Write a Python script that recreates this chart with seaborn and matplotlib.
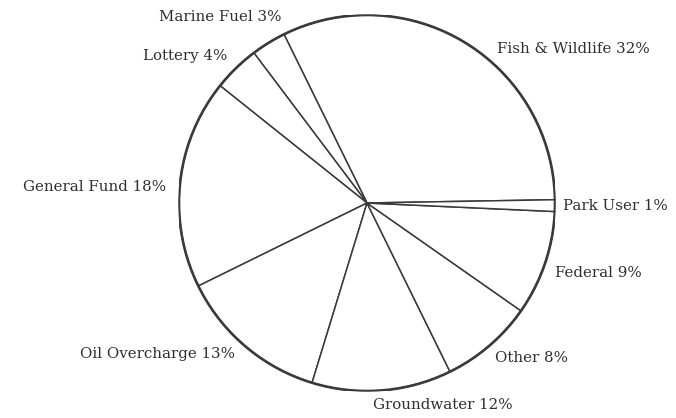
import matplotlib.pyplot as plt
import seaborn as sns

# Sources, counter-clockwise from 3 o'clock
sources = ['Fish & Wildlife', 'Marine Fuel', 'Lottery', 'General Fund',
           'Oil Overcharge', 'Groundwater', 'Other', 'Federal', 'Park User']
shares = [32, 3, 4, 18, 13, 12, 8, 9, 1]

# label anchor (left edge, vertical centre) in pie-radius units
label_pos = [(0.69, 0.82), (-1.106, 0.989), (-1.191, 0.782), (-1.83, 0.085),
             (-1.527, -0.803), (0.032, -1.074), (0.681, -0.824), (1.0, -0.372),
             (1.043, -0.016)]

sns.set_theme(style="white")
plt.rcParams['font.family'] = ['DejaVu Serif']

fig = plt.figure(figsize=(6.76, 4.18), dpi=100)
ax = fig.add_axes([179 / 676, 27 / 418, 376 / 676, 376 / 418])

wedges, _ = ax.pie(shares, startangle=1, counterclock=True,
                   colors=['white'] * len(shares),
                   wedgeprops=dict(edgecolor='#3a3a3a', linewidth=1.1))
ax.add_patch(plt.Circle((0, 0), 1, fill=False, edgecolor='#3a3a3a', linewidth=1.9))

for name, pct, (x, y) in zip(sources, shares, label_pos):
    ax.text(x, y, f'{name} {pct}%', ha='left', va='center', fontsize=10.8,
            color='#2e2e2e', clip_on=False)

ax.set_xlim(-1, 1)
ax.set_ylim(-1, 1)
ax.set_aspect('equal')
ax.axis('off')

fig.savefig('out.png', dpi=100, facecolor='white')
